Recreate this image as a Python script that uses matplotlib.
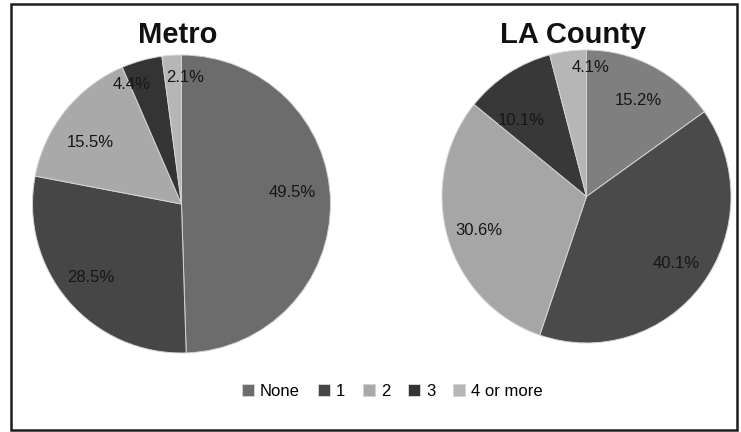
import matplotlib

matplotlib.use("Agg")
import matplotlib.pyplot as plt
import numpy as np
from matplotlib.patches import Rectangle

W, H = 741, 432

CATEGORIES = ["None", "1", "2", "3", "4 or more"]
METRO = [49.5, 28.5, 15.5, 4.4, 2.1]
LA_COUNTY = [15.2, 40.1, 30.6, 10.1, 4.1]
TITLES = ["Metro", "LA County"]

# greys (scan of an Excel chart, the two pies came out a bit different)
METRO_COLORS = ["#6c6c6c", "#464646", "#a9a9a9", "#343434", "#b6b6b6"]
LA_COLORS = ["#7f7f7f", "#4a4a4a", "#a6a6a6", "#383838", "#b6b6b6"]

# label placement: radius (fraction of pie) and angular nudge in degrees
METRO_LBL_R = [0.745, 0.78, 0.74, 0.87, 0.85]
METRO_LBL_SHIFT = [4.8, -1.5, 4.6, 7.0, -5.4]
LA_LBL_R = [0.75, 0.77, 0.78, 0.69, 0.88]
LA_LBL_SHIFT = [-1.4, 0.4, 1.3, 8.2, -9.4]

plt.rcParams["font.family"] = ["Liberation Sans", "DejaVu Sans"]


def px_box(left, top, right, bottom):
    return (left / W, 1 - bottom / H, (right - left) / W, (bottom - top) / H)


fig = plt.figure(figsize=(W / 100, H / 100), dpi=100, facecolor="white")

# outer frame
fig.patches.append(Rectangle((11 / W, 1 - 430 / H), 726 / W, 426 / H,
                             transform=fig.transFigure, fill=False,
                             edgecolor="#1e1e1e", linewidth=1.8))

pies = [
    (METRO, METRO_COLORS, METRO_LBL_R, METRO_LBL_SHIFT,
     px_box(32.5, 55, 330.5, 353), 178),
    (LA_COUNTY, LA_COLORS, LA_LBL_R, LA_LBL_SHIFT,
     px_box(442, 50, 731, 343), 573.5),
]

legend_handles = None
for (vals, cols, lbl_r, lbl_shift, box, tx), title in zip(pies, TITLES):
    ax = fig.add_axes(box)
    wedges, _, autotexts = ax.pie(
        vals, colors=cols, startangle=90, counterclock=False,
        autopct="%.1f%%",
        wedgeprops=dict(edgecolor="#d4d4d4", linewidth=0.7),
        textprops=dict(color="#161616", fontsize=12))
    ax.set_aspect("auto")
    ax.set_xlim(-1, 1)
    ax.set_ylim(-1, 1)
    for w, t, r, s in zip(wedges, autotexts, lbl_r, lbl_shift):
        ang = np.deg2rad((w.theta1 + w.theta2) / 2 + s)
        t.set_position((r * np.cos(ang), r * np.sin(ang)))
    if legend_handles is None:
        legend_handles = wedges
    fig.text(tx / W, 1 - 43 / H, title, ha="center", va="baseline",
             fontsize=21, weight="bold", color="#111111")

fig.legend(legend_handles, CATEGORIES, loc="center", ncol=5,
           bbox_to_anchor=(392.5 / W, 1 - 391 / H), frameon=False,
           handlelength=0.7, handleheight=0.7, handletextpad=0.35,
           columnspacing=1.1, fontsize=12, borderpad=0)

fig.savefig("out.png", dpi=100, facecolor="white")
